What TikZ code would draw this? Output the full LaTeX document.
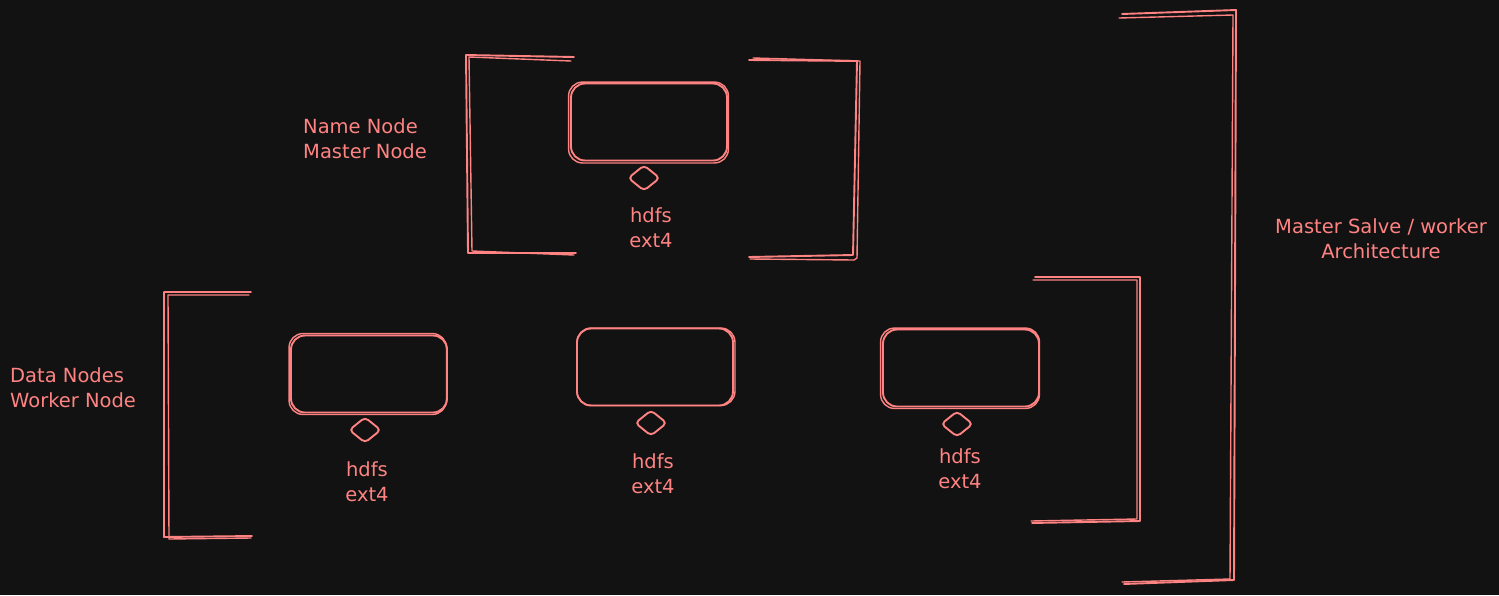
\documentclass[tikz,border=0pt]{standalone}
\usepackage{fontspec}
\setmainfont{DejaVu Sans}
\usetikzlibrary{shapes.geometric}
\definecolor{bg}{HTML}{121212}
\definecolor{sal}{HTML}{FF8383}
\begin{document}
\begin{tikzpicture}[x=1pt,y=-1pt,
  sk/.style={draw=sal, line width=1.9pt, line cap=round, line join=round},
  skb/.style={draw=sal, line width=1.4pt, line cap=round, line join=round},
  box/.style={draw=sal, line width=1.9pt, rounded corners=14pt, minimum width=156pt, minimum height=77pt, inner sep=0pt},
  dia/.style={draw=sal, line width=1.9pt, diamond, minimum width=32pt, minimum height=26pt, inner sep=0pt, rounded corners=4pt},
  lbl/.style={text=sal, font=\fontsize{19.5}{25}\selectfont, inner sep=0pt}
]
\fill[bg] (0,0) rectangle (1499,595);
\useasboundingbox (0,0) rectangle (1499,595);

% ---- brackets (sketchy double strokes)
% name node left
\draw[sk] (574,57) -- (466,55) -- (468,253) -- (576,253);
\draw[skb] (571,61) -- (469,57) -- (472,251) -- (574,255);
% name node right
\draw[sk] (749,60) -- (857,61) -- (853,255) -- (749,257);
\draw[skb] (753,58) -- (860,61) -- (857,258) -- (854,260) -- (750,259);
% data nodes left
\draw[sk] (251,292) -- (164,292) -- (164,537) -- (252,536);
\draw[skb] (249,295) -- (168,295) -- (169,539) -- (251,538);
% data nodes right
\draw[sk] (1035,277) -- (1140,277) -- (1140,521) -- (1032,523);
\draw[skb] (1033,280) -- (1137,280) -- (1137,519) -- (1031,521);
% big bracket
\draw[sk] (1122,14) -- (1236,10) -- (1234,580) -- (1124,584);
\draw[skb] (1119,18) -- (1233,15) -- (1230,579) -- (1122,582);

% ---- boxes
\node[box] (nn) at (649,122) {};
\draw[skb, rounded corners=14pt] ([xshift=-1.5pt,yshift=0.5pt]nn.north west) rectangle ([xshift=0.5pt,yshift=-1.5pt]nn.south east);
\node[box] (w1) at (369,374) {};
\draw[skb, rounded corners=14pt] ([xshift=-1pt,yshift=1pt]w1.north west) rectangle ([xshift=-1.5pt,yshift=-1pt]w1.south east);
\node[box] (w2) at (655,367) {};
\draw[skb, rounded corners=14pt] ([xshift=1pt,yshift=-0.5pt]w2.north west) rectangle ([xshift=1pt,yshift=1pt]w2.south east);
\node[box] (w3) at (961,368) {};
\draw[skb, rounded corners=14pt] ([xshift=-1.5pt,yshift=0.5pt]w3.north west) rectangle ([xshift=-0.5pt,yshift=-1pt]w3.south east);

% ---- diamonds
\node[dia] (dn) at (644,178) {};
\node[dia] (d1) at (365,430) {};
\node[dia] (d2) at (651,423) {};
\node[dia] (d3) at (957,424) {};

% ---- labels
\node[lbl, anchor=north, align=center] (tn) at (651,207) {hdfs\\ext4};
\node[lbl, anchor=north, align=center] (t1) at (367,461) {hdfs\\ext4};
\node[lbl, anchor=north, align=center] (t2) at (653,453) {hdfs\\ext4};
\node[lbl, anchor=north, align=center] (t3) at (960,448) {hdfs\\ext4};

\node[lbl, anchor=north west, align=left] (lname) at (303,118.5) {Name Node\\Master Node};
\node[lbl, anchor=north west, align=left] (ldata) at (10,367) {Data Nodes\\Worker Node};
\node[lbl, anchor=north, align=center] (larch) at (1381,218.5) {Master Salve / worker\\Architecture};
\end{tikzpicture}
\end{document}
